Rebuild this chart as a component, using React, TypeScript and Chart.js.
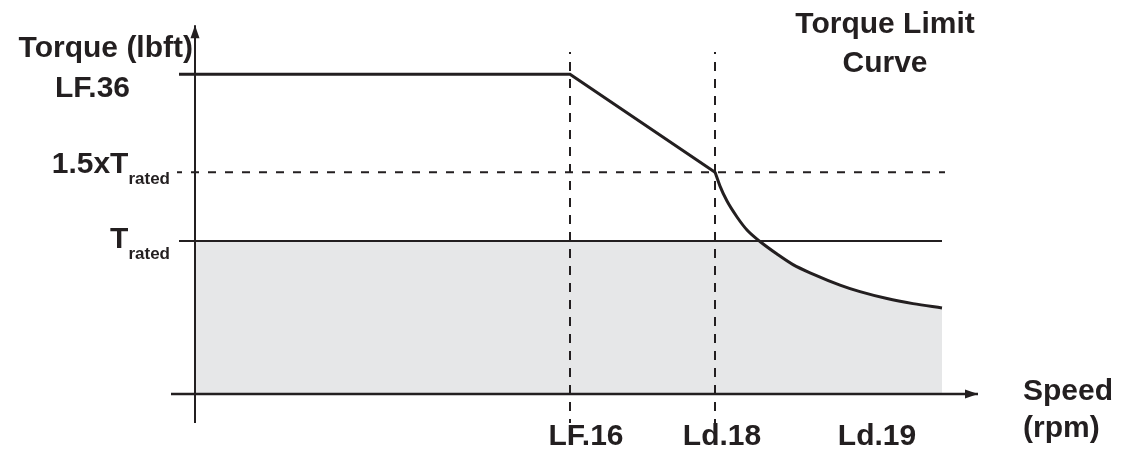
import React, { useEffect, useRef } from "react";
import { Chart, registerables } from "chart.js";

Chart.register(...registerables);

// ---- data (speed in rpm-like units, torque in lbft-like units) ----
const limitSpeed = [-64, 1500, 2080];
const limitTorque = [209, 209, 145];
const curveSpeed = [2080, 2100, 2128, 2168, 2208, 2260, 2328, 2392, 2472, 2580, 2660, 2768, 2872, 2988];
const curveTorque = [145.1, 135.9, 126.1, 115.7, 107.2, 99.7, 91.5, 84.6, 78.4, 71.2, 66.9, 62.4, 59.1, 56.2];
const ratedSpeed = [-64, 2988];
const ratedTorque = [100, 100];
const fillSpeed = [0, 2988];
const fillTorque = [100, 100];
const boostSpeed = [-72, 3000];
const boostTorque = [145, 145];
const markerSpeeds = [1500, 2080];
const markerTorque = [223.5, -19];
const yAxisSpeed = [0, 0];
const yAxisTorque = [-19, 241];
const xAxisSpeed = [-96, 3132];
const xAxisTorque = [0, 0];

const yTickValues = [209, 145, 100];
const yTickMain = ["LF.36", "1.5xT", "T"];
const yTickSub = ["", "rated", "rated"];
const xTickValues = [1500, 2080, 2728];
const xTickLabels = ["LF.16", "Ld.18", "Ld.19"];

const INK = "#231f20";
const GRAY = "#e6e7e8";
const FONT = "'Liberation Sans', Arial, Helvetica, sans-serif";

const zip = (xs: number[], ys: number[]) => xs.map((x, i) => ({ x, y: ys[i] }));

const labelPlugin = {
  id: "labels",
  afterDatasetsDraw(chart: any) {
    const ctx = chart.ctx as CanvasRenderingContext2D;
    const xs = chart.scales.x;
    const ys = chart.scales.y;
    const ax = xs.getPixelForValue(0);
    const ay = ys.getPixelForValue(0);
    ctx.save();
    ctx.fillStyle = INK;
    ctx.strokeStyle = INK;

    // arrows
    const yTip = ys.getPixelForValue(yAxisTorque[1]);
    ctx.beginPath();
    ctx.moveTo(ax, yTip);
    ctx.lineTo(ax - 4.5, yTip + 13);
    ctx.lineTo(ax + 4.5, yTip + 13);
    ctx.closePath();
    ctx.fill();
    const xTip = xs.getPixelForValue(xAxisSpeed[1]);
    ctx.beginPath();
    ctx.moveTo(xTip, ay);
    ctx.lineTo(xTip - 13, ay - 4.5);
    ctx.lineTo(xTip - 13, ay + 4.5);
    ctx.closePath();
    ctx.fill();

    ctx.textBaseline = "alphabetic";
    const big = `bold 30px ${FONT}`;
    const small = `bold 17px ${FONT}`;

    // y-axis title
    ctx.font = big;
    ctx.textAlign = "right";
    ctx.fillText("Torque (lbft)", ax - 2, yTip + 32);

    // y tick labels
    const rightEdges = [ax - 65, ax - 25, ax - 25];
    const dy = [23, 1, 7];
    yTickValues.forEach((v, i) => {
      const py = ys.getPixelForValue(v);
      let right = rightEdges[i];
      if (yTickSub[i]) {
        ctx.font = small;
        ctx.textAlign = "left";
        const w = ctx.measureText(yTickSub[i]).width;
        ctx.fillText(yTickSub[i], right - w, py + dy[i] + 11);
        right = right - w;
      }
      ctx.font = big;
      ctx.textAlign = "right";
      ctx.fillText(yTickMain[i], right, py + dy[i]);
    });

    // x tick labels
    const dx = [16, 7, 0];
    ctx.font = big;
    ctx.textAlign = "center";
    xTickValues.forEach((v, i) => {
      ctx.fillText(xTickLabels[i], xs.getPixelForValue(v) + dx[i], ay + 51);
    });

    // x-axis title
    ctx.textAlign = "left";
    ctx.fillText("Speed", xTip + 45, ay + 6);
    ctx.fillText("(rpm)", xTip + 45, ay + 43);

    // chart title
    ctx.textAlign = "center";
    ctx.fillText("Torque Limit", 885, 33);
    ctx.fillText("Curve", 885, 72);
    ctx.restore();
  },
};

export default function App() {
  const ref = useRef<HTMLCanvasElement | null>(null);
  useEffect(() => {
    if (!ref.current) return;
    const line = (data: any, extra: any = {}) => ({
      data,
      borderColor: INK,
      borderWidth: 2,
      pointRadius: 0,
      fill: false,
      tension: 0,
      ...extra,
    });
    const dash = { borderDash: [9, 8], borderDashOffset: 7 };
    const chart = new Chart(ref.current, {
      type: "line",
      data: {
        datasets: [
          line(zip(yAxisSpeed, yAxisTorque), { borderWidth: 2 }),
          line(zip(xAxisSpeed, xAxisTorque), { borderWidth: 2.5 }),
          line(zip(limitSpeed, limitTorque), { borderWidth: 3 }),
          line(zip(ratedSpeed, ratedTorque), { borderWidth: 2 }),
          line(zip(curveSpeed, curveTorque), {
            borderWidth: 3,
            cubicInterpolationMode: "monotone",
            fill: { target: { value: 100 }, above: "rgba(0,0,0,0)", below: "#ffffff" },
          }),
          line(zip(boostSpeed, boostTorque), { borderDash: [8, 9], borderDashOffset: 3 }),
          line(zip([markerSpeeds[0], markerSpeeds[0]], markerTorque), dash),
          line(zip([markerSpeeds[1], markerSpeeds[1]], markerTorque), dash),
          line(zip(fillSpeed, fillTorque), {
            borderWidth: 0,
            borderColor: "rgba(0,0,0,0)",
            backgroundColor: GRAY,
            fill: "origin",
          }),
        ],
      },
      options: {
        animation: false,
        responsive: false,
        layout: { padding: 0 },
        scales: {
          x: { type: "linear", display: false, min: -780, max: 3736 },
          y: { type: "linear", display: false, min: -43.1, max: 257.5 },
        },
        plugins: {
          legend: { display: false },
          tooltip: { enabled: false },
          title: { display: false },
        },
        events: [],
      },
      plugins: [labelPlugin],
    } as any);
    return () => chart.destroy();
  }, []);
  return (
    <div style={{ position: "fixed", left: 0, top: 0, width: 1129, height: 460, background: "#fff" }}>
      <canvas ref={ref} width={1129} height={460} />
    </div>
  );
}
